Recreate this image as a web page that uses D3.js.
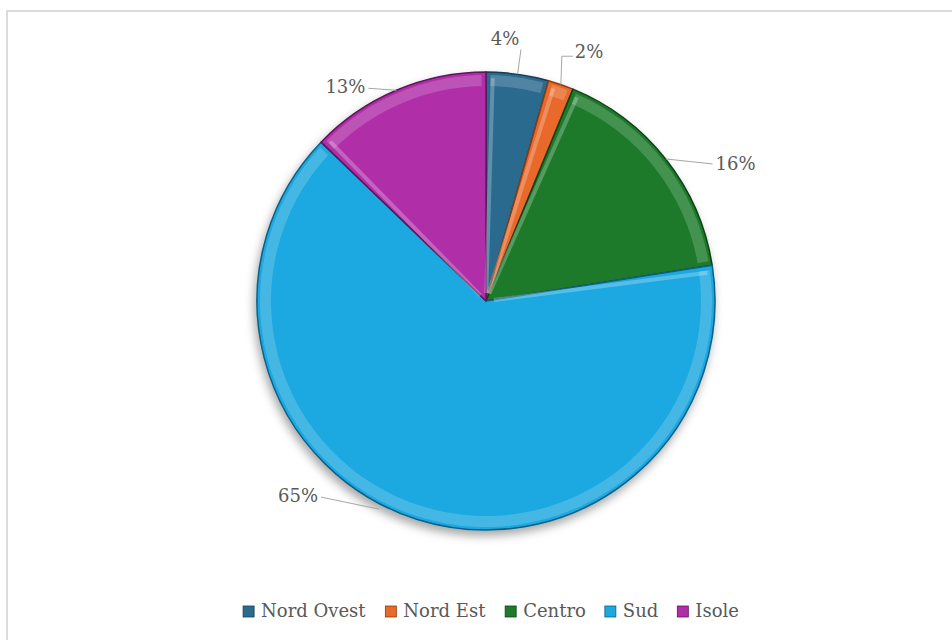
<!DOCTYPE html>
<html><head><meta charset="utf-8">
<script src="https://cdn.jsdelivr.net/npm/d3@7"></script>
<style>html,body{margin:0;padding:0;background:#fff;}svg{display:block;}</style>
</head><body>
<svg id="chart" width="952" height="640"></svg>
<script>
const categories = ["Nord Ovest", "Nord Est", "Centro", "Sud", "Isole"];
const values = [4.4, 1.8, 16.3, 64.7, 12.8];
const colors = ["#2c6b8e", "#e8692a", "#1f7a2a", "#1fa8e0", "#b02fa8"];
const darkColors = ["#163d55", "#8a3a12", "#0e4216", "#0a5f86", "#5c145a"];

const cx = 486, cy = 301, R = 229;
const svg = d3.select("#chart");

// frame
svg.append("rect").attr("x", 7).attr("y", 11).attr("width", 960).attr("height", 640)
  .attr("fill", "#fff").attr("stroke", "#d0d0d0").attr("stroke-width", 1.5);

const defs = svg.append("defs");
const f = defs.append("filter").attr("id", "shadow").attr("x", "-20%").attr("y", "-20%").attr("width", "140%").attr("height", "140%");
f.append("feDropShadow").attr("dx", -2).attr("dy", 5).attr("stdDeviation", 5).attr("flood-color", "#000").attr("flood-opacity", 0.35);

const data = categories.map((c, i) => ({ name: c, value: values[i], color: colors[i], dark: darkColors[i] }));
const pie = d3.pie().value(d => d.value).sort(null);
const arcs = pie(data);
const total = d3.sum(values);

const arc = d3.arc().innerRadius(0).outerRadius(R);
const bevel = d3.arc().innerRadius(R - 14).outerRadius(R - 3);

const g = svg.append("g").attr("transform", `translate(${cx},${cy})`);
const pieG = g.append("g").attr("filter", "url(#shadow)");
pieG.selectAll("path.slice").data(arcs).join("path")
  .attr("class", "slice")
  .attr("d", arc)
  .attr("fill", d => d.data.color)
  .attr("stroke", d => d.data.dark)
  .attr("stroke-width", 1.5)
  .attr("stroke-linejoin", "round");

g.selectAll("path.bevel").data(arcs).join("path")
  .attr("class", "bevel")
  .attr("d", d => bevel({ startAngle: d.startAngle + 0.02, endAngle: d.endAngle - 0.02 }))
  .attr("fill", "#fff").attr("opacity", 0.18);

g.selectAll("line.edge").data(arcs).join("line")
  .attr("class", "edge")
  .attr("x1", d => Math.sin(d.startAngle + 0.03) * 8)
  .attr("y1", d => -Math.cos(d.startAngle + 0.03) * 8)
  .attr("x2", d => Math.sin(d.startAngle + 0.03) * (R - 6))
  .attr("y2", d => -Math.cos(d.startAngle + 0.03) * (R - 6))
  .attr("stroke", "#fff").attr("stroke-opacity", 0.25).attr("stroke-width", 4);

// label layout: leader from rim (at mid-angle + shift) to elbow (radius rElbow), then horizontal run (dx, dy)
const labelLayout = [
  { shift: 0.0,  rStart: R, rElbow: 254, dx: 0,   dy: 0,   anchor: "middle", tdx: -16, tdy: -4 },
  { shift: 0.0,  rStart: R, rElbow: 259, dx: 11,  dy: 0,   anchor: "start",  tdx: 2,  tdy: 2, vertical: true },
  { shift: 0.0,  rStart: R, rElbow: R,   dx: 47,  dy: 5,   anchor: "start",  tdx: 3,  tdy: 6 },
  { shift: 0.17, rStart: R + 5, rElbow: R + 5, dx: -58, dy: -12, anchor: "end", tdx: -3, tdy: 5 },
  { shift: 0.0,  rStart: R, rElbow: R,   dx: -28, dy: -2,  anchor: "end",    tdx: -3, tdy: 5 }
];

const pt = (a, r) => [Math.sin(a) * r, -Math.cos(a) * r];
const lab = g.append("g");
arcs.forEach((d, i) => {
  const L = labelLayout[i];
  const a = (d.startAngle + d.endAngle) / 2 + L.shift;
  const p0 = pt(a, L.rStart);
  let p1 = pt(a, L.rElbow);
  if (L.vertical) p1 = [p0[0] + 1, p1[1]];
  const p2 = [p1[0] + L.dx, p1[1] + L.dy];
  lab.append("polyline")
    .attr("points", [p2, p1, p0].map(p => p.join(",")).join(" "))
    .attr("fill", "none").attr("stroke", "#a6a6a6").attr("stroke-width", 1);
  lab.append("text")
    .attr("x", p2[0] + L.tdx)
    .attr("y", p2[1] + L.tdy)
    .attr("text-anchor", L.anchor)
    .attr("font-family", "'DejaVu Serif', serif")
    .attr("font-size", 18)
    .attr("fill", "#595959")
    .text(Math.round(d.value / total * 100) + "%");
});

// legend
const legend = svg.append("g");
const items = legend.selectAll("g").data(data).join("g");
items.append("rect").attr("width", 11).attr("height", 11).attr("y", -11)
  .attr("fill", d => d.color).attr("stroke", d => d.dark).attr("stroke-width", 0.8);
items.append("text").attr("x", 18).attr("y", 0)
  .attr("font-family", "'DejaVu Serif', serif").attr("font-size", 18).attr("fill", "#595959")
  .text(d => d.name);
let xpos = 0;
const gap = 19;
items.each(function () {
  const w = this.getBBox().width;
  d3.select(this).attr("transform", `translate(${xpos},0)`);
  xpos += w + gap;
});
const totalW = xpos - gap;
legend.attr("transform", `translate(${491 - totalW / 2},617)`);
</script>
</body></html>
